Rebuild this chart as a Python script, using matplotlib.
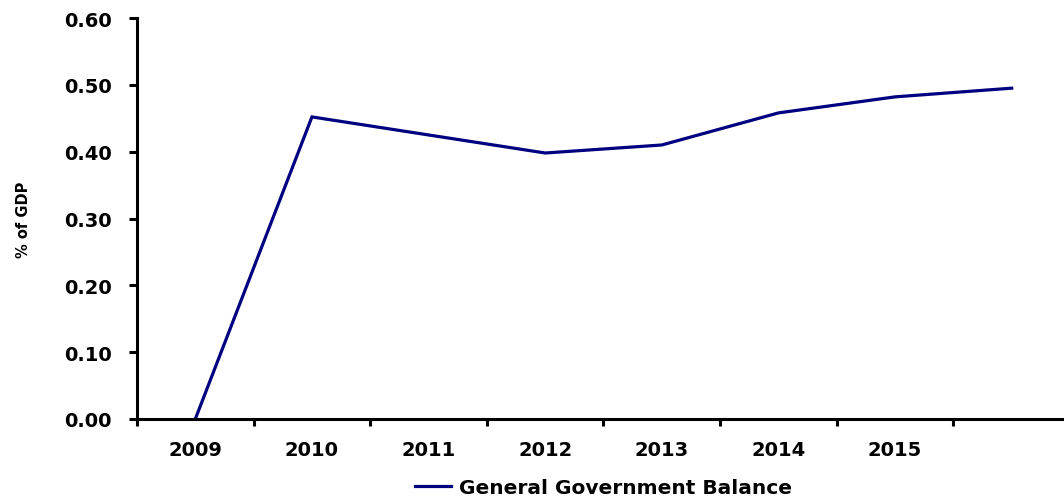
import matplotlib.pyplot as plt
import numpy as np

# General Government Balance, % of GDP
years = ["2009", "2010", "2011", "2012", "2013", "2014", "2015", ""]
balance = [0.000, 0.452, 0.425, 0.398, 0.410, 0.458, 0.482, 0.495]
yticks = [0.0, 0.1, 0.2, 0.3, 0.4, 0.5, 0.6]

plt.rcParams['font.family'] = ['DejaVu Sans']
plt.rcParams['font.weight'] = 'bold'

fig = plt.figure(figsize=(10.64, 5.02), dpi=100)
ax = fig.add_axes([137 / 1064, 82 / 502, 933 / 1064, 401 / 502])

x = np.arange(len(years))
ax.plot(x, balance, color='#000080', linewidth=2.3, label='General Government Balance',
        solid_joinstyle='miter', clip_on=False)

ax.set_xlim(-0.5, len(years) - 0.5)
ax.set_ylim(0, 0.6)
ax.set_yticks(yticks)
ax.set_yticklabels([f"{v:.2f}" for v in yticks], fontsize=14, fontweight='bold')

# category labels centred, tick marks between categories
ax.set_xticks(x)
ax.set_xticklabels(years, fontsize=14, fontweight='bold')
ax.tick_params(axis='x', which='major', length=0, pad=15)
ax.set_xticks(np.arange(-0.5, len(years), 1), minor=True)
ax.tick_params(axis='x', which='minor', length=5, width=2.2, direction='out')
ax.tick_params(axis='y', length=6, width=2.2, direction='out', pad=12)

for side in ['top', 'right']:
    ax.spines[side].set_visible(False)
for side in ['left', 'bottom']:
    ax.spines[side].set_linewidth(2.2)

ax.set_ylabel('% of GDP', fontsize=10.5, fontweight='bold', labelpad=24)

ax.legend(loc='center', bbox_to_anchor=(0.5, -0.172), frameon=False,
          prop={'size': 14.5, 'weight': 'bold'}, handlelength=1.8, handletextpad=0.4,
          borderaxespad=0, borderpad=0)

fig.savefig('out.png', dpi=100)
